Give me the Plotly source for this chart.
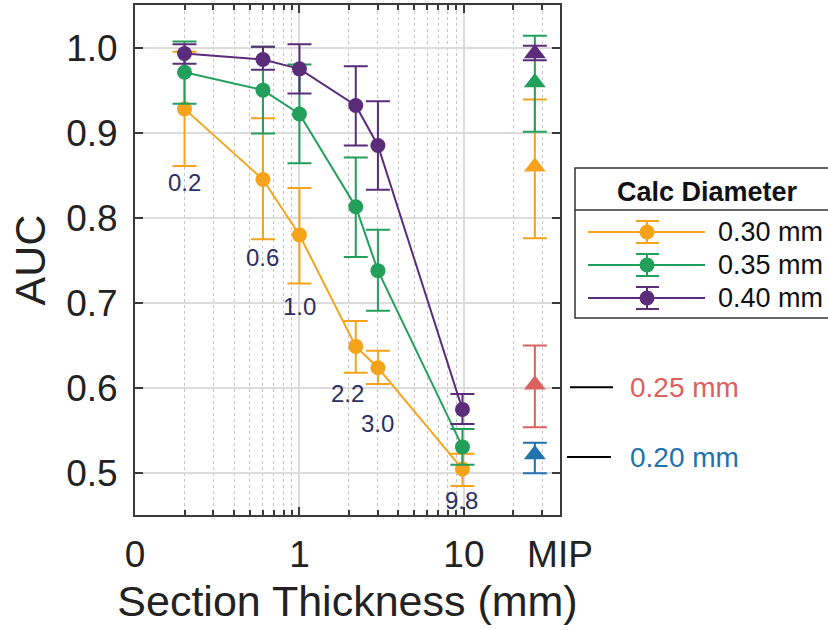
import numpy as np
import plotly.graph_objects as go

# ---------------- data ----------------
thickness = [0.2, 0.6, 1.0, 2.2, 3.0, 9.8]
series_names = ["0.30 mm", "0.35 mm", "0.40 mm"]

auc_030 = [0.928, 0.845, 0.780, 0.649, 0.624, 0.505]
upper_030 = [0.995, 0.917, 0.835, 0.679, 0.644, 0.523]
lower_030 = [0.861, 0.775, 0.723, 0.618, 0.605, 0.485]

auc_035 = [0.971, 0.950, 0.922, 0.813, 0.738, 0.531]
upper_035 = [1.007, 1.001, 0.980, 0.871, 0.786, 0.552]
lower_035 = [0.934, 0.899, 0.864, 0.754, 0.691, 0.510]

auc_040 = [0.993, 0.986, 0.975, 0.932, 0.885, 0.575]
upper_040 = [1.004, 1.001, 1.004, 0.978, 0.937, 0.593]
lower_040 = [0.981, 0.974, 0.946, 0.885, 0.833, 0.558]

mip_x = 27  # position of the "MIP" column on the log axis
mip_auc = [0.860, 0.959, 0.993]
mip_upper = [0.939, 1.014, 1.002]
mip_lower = [0.776, 0.901, 0.985]

small_names = ["0.25 mm", "0.20 mm"]
small_mip_auc = [0.604, 0.522]
small_mip_upper = [0.650, 0.536]
small_mip_lower = [0.554, 0.500]

x_tickvals = [0.1, 1, 10, 38.4]
x_ticktext = ["0", "1", "10", "MIP"]
x_minor_vals = [0.2, 0.3, 0.4, 0.5, 0.6, 0.7, 0.8, 0.9,
                2, 3, 4, 5, 6, 7, 8, 9, 20, 30]
y_tickvals = [0.5, 0.6, 0.7, 0.8, 0.9, 1.0]

# ---------------- styles / layout ----------------
OFF = 0
W, H = 828, 630
ML, MR, MT, MB = 135, 268, 5, 115
colors = ["#F5A31A", "#22A05B", "#5B2C7A"]
small_colors = ["#D9625F", "#2272AD"]
navy = "#2D2F63"
FONT = "Arial, Liberation Sans, sans-serif"

label_x = [0.2, 0.6, 1.0, 1.97, 3.0, 9.7]
label_y = [0.841, 0.753, 0.696, 0.594, 0.559, 0.4685]


def px2x(px):
    return (px - OFF - ML) / (W - ML - MR)


def px2y(py):
    return (H - MB - (py - OFF)) / (H - MT - MB)


fig = go.Figure()

means = [auc_030, auc_035, auc_040]
uppers = [upper_030, upper_035, upper_040]
lowers = [lower_030, lower_035, lower_040]

for name, c, m, u, lo in zip(series_names, colors, means, uppers, lowers):
    m = np.array(m); u = np.array(u); lo = np.array(lo)
    fig.add_trace(go.Scatter(
        x=thickness, y=m, mode="lines+markers", name=name,
        line=dict(color=c, width=2),
        marker=dict(color=c, size=15, symbol="circle"),
        error_y=dict(type="data", symmetric=False, array=u - m,
                     arrayminus=m - lo, color=c, thickness=2, width=12),
        showlegend=False,
    ))

for i, c in enumerate(colors):
    fig.add_trace(go.Scatter(
        x=[mip_x], y=[mip_auc[i]], mode="markers", name=series_names[i] + " MIP",
        marker=dict(color=c, size=19, symbol="triangle-up"),
        error_y=dict(type="data", symmetric=False,
                     array=[mip_upper[i] - mip_auc[i]],
                     arrayminus=[mip_auc[i] - mip_lower[i]],
                     color=c, thickness=2, width=12),
        showlegend=False,
    ))

for i, c in enumerate(small_colors):
    fig.add_trace(go.Scatter(
        x=[mip_x], y=[small_mip_auc[i]], mode="markers", name=small_names[i],
        marker=dict(color=c, size=19, symbol="triangle-up"),
        error_y=dict(type="data", symmetric=False,
                     array=[small_mip_upper[i] - small_mip_auc[i]],
                     arrayminus=[small_mip_auc[i] - small_mip_lower[i]],
                     color=c, thickness=2, width=12),
        showlegend=False,
    ))

annotations = []
shapes = []

# thickness labels
for t, lx, ly in zip(thickness, label_x, label_y):
    annotations.append(dict(
        x=np.log10(lx), y=ly, xref="x", yref="y", text=f"{t:.1f}",
        showarrow=False, font=dict(size=24, color=navy, family=FONT),
        xanchor="center", yanchor="middle"))

# right side labels for 0.25 / 0.20 mm
for name, c, v, (a, b) in zip(small_names, small_colors, small_mip_auc,
                              [(570, 613), (567, 611)]):
    shapes.append(dict(type="line", xref="paper", yref="y",
                       x0=px2x(a), x1=px2x(b), y0=v - 0.003, y1=v - 0.003,
                       line=dict(color="black", width=2)))
    annotations.append(dict(
        x=px2x(628), y=v - 0.003, xref="paper", yref="y", text=name,
        showarrow=False, font=dict(size=28, color=c, family=FONT),
        xanchor="left", yanchor="middle"))

# custom legend
lx0, lx1, ly0, ly1 = 575, 834, 168, 318
shapes.append(dict(type="rect", xref="paper", yref="paper",
                   x0=px2x(lx0), x1=px2x(lx1), y0=px2y(ly1), y1=px2y(ly0),
                   line=dict(color="#333333", width=1.5), fillcolor="white",
                   layer="above"))
shapes.append(dict(type="line", xref="paper", yref="paper",
                   x0=px2x(lx0), x1=px2x(lx1), y0=px2y(210), y1=px2y(210),
                   line=dict(color="#333333", width=1.5)))
annotations.append(dict(
    x=px2x(707), y=px2y(192), xref="paper", yref="paper",
    text="<b>Calc Diameter</b>", showarrow=False,
    font=dict(size=27, color="#111111", family=FONT),
    xanchor="center", yanchor="middle"))
for i, (name, c) in enumerate(zip(series_names, colors)):
    yy = 232 + 33 * i
    shapes.append(dict(type="line", xref="paper", yref="paper",
                       x0=px2x(588), x1=px2x(705), y0=px2y(yy), y1=px2y(yy),
                       line=dict(color=c, width=2)))
    shapes.append(dict(type="line", xref="paper", yref="paper",
                       x0=px2x(647), x1=px2x(647), y0=px2y(yy - 11), y1=px2y(yy + 11),
                       line=dict(color=c, width=2)))
    for cy in (yy - 11, yy + 11):
        shapes.append(dict(type="line", xref="paper", yref="paper",
                           x0=px2x(636), x1=px2x(659), y0=px2y(cy), y1=px2y(cy),
                           line=dict(color=c, width=2)))
    shapes.append(dict(type="circle", xref="paper", yref="paper",
                       x0=px2x(647 - 7.5), x1=px2x(647 + 7.5),
                       y0=px2y(yy + 7.5), y1=px2y(yy - 7.5),
                       fillcolor=c, line=dict(color=c, width=0)))
    annotations.append(dict(
        x=px2x(716), y=px2y(yy), xref="paper", yref="paper", text=name,
        showarrow=False, font=dict(size=27, color="#111111", family=FONT),
        xanchor="left", yanchor="middle"))

axis_common = dict(
    showline=True, linecolor="#3a3a3a", linewidth=2, mirror="ticks",
    ticks="inside", ticklen=8, tickwidth=1.5, tickcolor="#3a3a3a",
    showgrid=True, gridcolor="#dcdcdc", gridwidth=1.5, zeroline=False,
    tickfont=dict(size=37, color="#222222", family=FONT),
)

fig.update_layout(
    width=W, height=H,
    margin=dict(l=ML, r=MR, t=MT, b=MB, autoexpand=False),
    paper_bgcolor="white", plot_bgcolor="white",
    font=dict(family=FONT, color="#222222"),
    xaxis=dict(
        type="log", range=[-1, np.log10(38.4)],
        tickmode="array", tickvals=x_tickvals, ticktext=x_ticktext,
        minor=dict(tickmode="array", tickvals=x_minor_vals, ticks="inside",
                   ticklen=5, tickcolor="#3a3a3a", showgrid=True,
                   gridcolor="#c4c4c4", griddash="dot", gridwidth=1),
        title=dict(text="Section Thickness (mm)",
                   font=dict(size=43, color="#222222", family=FONT),
                   standoff=11),
        ticklabelstandoff=6,
        **axis_common,
    ),
    yaxis=dict(
        range=[0.451, 1.050],
        tickmode="array", tickvals=y_tickvals,
        tickformat=".1f",
        title=dict(text="AUC", font=dict(size=43, color="#222222", family=FONT),
                   standoff=7),
        ticklabelstandoff=8,
        **axis_common,
    ),
    annotations=annotations,
    shapes=shapes,
    showlegend=False,
)

fig.write_html(
    "out.html",
    config={"displayModeBar": False},
    post_script="document.body.style.margin='0px';"
                "document.body.style.overflow='hidden';",
)
